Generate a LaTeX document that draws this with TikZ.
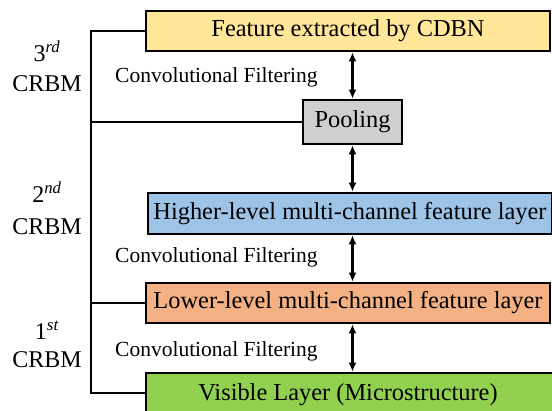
\documentclass[tikz,border=0pt]{standalone}
\usepackage{fontspec}
\setmainfont{Liberation Serif}
\usetikzlibrary{arrows.meta}
\definecolor{cYellow}{HTML}{FFE699}
\definecolor{cBlue}{HTML}{9DC3E6}
\definecolor{cOrange}{HTML}{F4B183}
\definecolor{cGreen}{HTML}{92D050}
\definecolor{cGray}{HTML}{D0CECE}
\tikzset{
  layer/.style={draw=black, line width=2.6pt, minimum width=404pt, minimum height=40pt,
    inner sep=0pt, font=\fontsize{24.4}{28}\selectfont},
  poolbox/.style={draw=black, line width=2.6pt, fill=cGray, minimum width=99pt,
    minimum height=44pt, inner sep=0pt, font=\fontsize{24.4}{28}\selectfont},
  conn/.style={line width=2.4pt},
  dbl/.style={line width=2.4pt, {Latex[length=9pt,width=8pt]}-{Latex[length=9pt,width=8pt]}},
  cflabel/.style={anchor=base west, inner sep=0pt, font=\fontsize{21.5}{25}\selectfont},
  crbm/.style={anchor=base, inner sep=0pt, font=\fontsize{24}{28}\selectfont},
}
\begin{document}
\begin{tikzpicture}[x=1pt, y=-1pt]
\useasboundingbox (0,0) rectangle (552,411);

% layer boxes
\node[layer, fill=cYellow] (feat) at (348,31) {Feature extracted by CDBN};
\node[poolbox] (pool) at (352.5,122) {Pooling};
\node[layer, fill=cBlue, minimum height=41pt] (high) at (350,213.5) {Higher-level multi-channel feature layer};
\node[layer, fill=cOrange] (low) at (348,303) {Lower-level multi-channel feature layer};
\node[layer, fill=cGreen, minimum width=412pt, minimum height=43pt] (vis) at (352,394.5) {\raisebox{2pt}{\hspace*{-8pt}Visible Layer (Microstructure)}};

% vertical data flow between layers
\draw[dbl] (feat.south -| pool) -- (pool.north);
\draw[dbl] (pool.south) -- (high.north -| pool);
\draw[dbl] (high.south -| pool) -- (low.north -| pool);
\draw[dbl] (low.south -| pool) -- (vis.north -| pool);

% bracket grouping the CRBMs
\coordinate (bx) at (91,0);
\coordinate (vw) at (146,393);
\draw[conn] (feat.west) -- (feat.west -| bx) -- (vw -| bx) -- (vw);
\draw[conn] (pool.west) -- (pool.west -| bx);
\draw[conn] (low.west) -- (low.west -| bx);

% filtering labels
\node[cflabel] (cf3) at (115,83) {Convolutional Filtering};
\node[cflabel] (cf2) at (115,263) {Convolutional Filtering};
\node[cflabel] (cf1) at (115,357) {Convolutional Filtering};

% CRBM labels
\node[crbm] (n3) at (47,62) {3\textsuperscript{\textit{rd}}};
\node[crbm] (c3) at (47,92) {CRBM};
\node[crbm] (n2) at (47,203) {2\textsuperscript{\textit{nd}}};
\node[crbm] (c2) at (47,235) {CRBM};
\node[crbm] (n1) at (47,340) {1\textsuperscript{\textit{st}}};
\node[crbm] (c1) at (47,368) {CRBM};
\end{tikzpicture}
\end{document}
